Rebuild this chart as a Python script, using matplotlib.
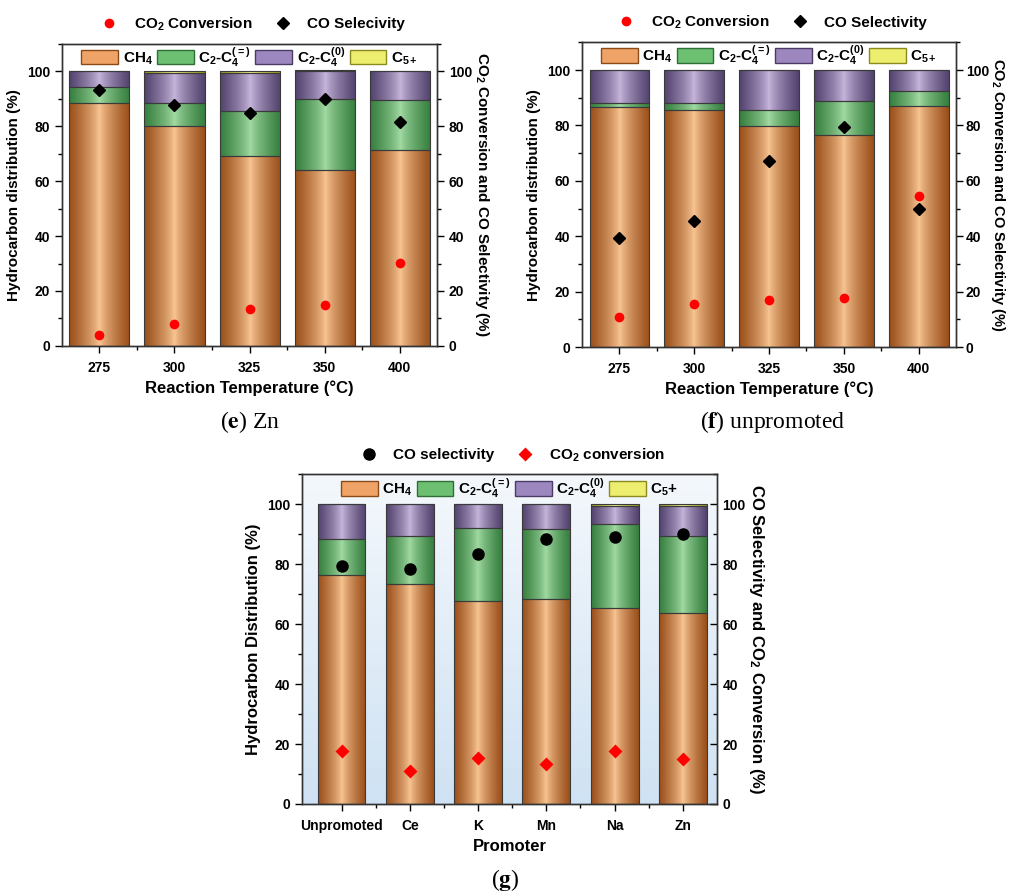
import numpy as np
import matplotlib
matplotlib.use("Agg")
import matplotlib.pyplot as plt
from matplotlib.colors import LinearSegmentedColormap
from matplotlib.patches import Patch
from matplotlib.lines import Line2D
from matplotlib.ticker import MultipleLocator

plt.rcParams['font.family'] = ['Liberation Sans', 'DejaVu Sans']
plt.rcParams['font.weight'] = 'bold'
plt.rcParams['axes.labelweight'] = 'bold'
plt.rcParams['mathtext.fontset'] = 'custom'
plt.rcParams['mathtext.rm'] = 'Liberation Sans:bold'
plt.rcParams['mathtext.it'] = 'Liberation Sans:bold'
plt.rcParams['mathtext.bf'] = 'Liberation Sans:bold'

# ---- data: (e) Zn promoted, temperature series
temps = ['275', '300', '325', '350', '400']
zn_ch4 = [88.5, 80.0, 69.0, 64.2, 71.3]
zn_olef = [5.8, 8.5, 16.7, 25.7, 18.2]
zn_par = [5.7, 11.0, 13.6, 10.1, 10.5]
zn_c5 = [0.0, 0.5, 0.7, 0.4, 0.1]
zn_co2_conv = [4.0, 8.0, 13.3, 15.0, 30.2]
zn_co_sel = [93.3, 87.8, 85.0, 90.0, 81.5]

# ---- data: (f) unpromoted, temperature series
un_ch4 = [86.5, 85.5, 79.7, 76.7, 87.2]
un_olef = [1.7, 2.7, 6.0, 12.0, 5.3]
un_par = [11.8, 11.8, 14.3, 11.3, 7.5]
un_c5 = [0.0, 0.0, 0.0, 0.0, 0.0]
un_co2_conv = [10.7, 15.5, 16.8, 17.8, 54.5]
un_co_sel = [39.3, 45.5, 67.3, 79.5, 49.8]

# ---- data: (g) promoter comparison
promoters = ['Unpromoted', 'Ce', 'K', 'Mn', 'Na', 'Zn']
pr_ch4 = [76.5, 73.5, 67.8, 68.3, 65.5, 63.8]
pr_olef = [12.0, 16.0, 24.2, 23.4, 27.8, 25.7]
pr_par = [11.5, 10.5, 8.0, 8.3, 6.2, 10.0]
pr_c5 = [0.0, 0.0, 0.0, 0.0, 0.5, 0.5]
pr_co_sel = [79.5, 78.5, 83.5, 88.5, 89.0, 90.2]
pr_co2_conv = [17.8, 11.0, 15.2, 13.5, 17.7, 15.0]

# gradient colours (edge, centre) for each hydrocarbon group
grad = {
    'ch4': ('#9a4f1a', '#fbc896'),
    'olef': ('#367f3e', '#a5dda6'),
    'par': ('#52436f', '#cab8de'),
    'c5': ('#9a9a1c', '#ffff9c'),
}


def gradient_bar(ax, x, h, bottom, width, key):
    dark, light = grad[key]
    cmap = LinearSegmentedColormap.from_list(key, [dark, light, dark])
    bars = ax.bar(x, h, width, bottom=bottom, facecolor='none',
                  edgecolor='#3a3a3a', linewidth=0.8, zorder=3)
    t = np.linspace(0, 1, 64)
    prof = 0.5 + 0.5 * np.sign(t - 0.5) * np.abs(2 * t - 1) ** 0.75
    img = prof.reshape(1, -1)
    for b in bars:
        if b.get_height() <= 0:
            continue
        x0, y0 = b.get_x(), b.get_y()
        im = ax.imshow(img, cmap=cmap, vmin=0, vmax=1, aspect='auto',
                       extent=(x0, x0 + b.get_width(), y0, y0 + b.get_height()),
                       zorder=2, interpolation='bicubic')
        im.set_clip_path(b)
    return bars


def stack(ax, n, ch4, olef, par, c5, width):
    x = np.arange(n)
    b = np.zeros(n)
    for vals, key in [(ch4, 'ch4'), (olef, 'olef'), (par, 'par'), (c5, 'c5')]:
        v = np.array(vals)
        gradient_bar(ax, x, v, b, width, key)
        b = b + v
    return x


def style(ax, ax2, n, labels, xlim):
    ax.set_xlim(*xlim)
    ax.set_ylim(0, 110)
    ax2.set_ylim(0, 110)
    ax.set_xticks(np.arange(n))
    ax.set_xticklabels(labels)
    ax.set_xticks(np.arange(n - 1) + 0.5, minor=True)
    for a in (ax, ax2):
        a.yaxis.set_major_locator(MultipleLocator(20))
        a.yaxis.set_minor_locator(MultipleLocator(10))
        a.set_yticks([0, 20, 40, 60, 80, 100])
        a.tick_params(which='major', length=5, width=1, labelsize=10)
        a.tick_params(which='minor', length=3, width=1)
        for s in a.spines.values():
            s.set_linewidth(1.0)
            s.set_color('#333333')
    ax.tick_params(axis='x', which='major', length=5, pad=6)


def bar_legend(ax, c5_label):
    handles = [Patch(facecolor='#f0a366', edgecolor='#8a4a18'),
               Patch(facecolor='#6dbf72', edgecolor='#2f6f36'),
               Patch(facecolor='#9c88bf', edgecolor='#4a3c66'),
               Patch(facecolor='#eded70', edgecolor='#8a8a20')]
    labels = ['CH$_4$', 'C$_2$-C$_4^{(=)}$', 'C$_2$-C$_4^{(0)}$', c5_label]
    ax.legend(handles, labels, loc='center', bbox_to_anchor=(0.5, 0.957),
              ncol=4, frameon=False, fontsize=11, handlelength=2.4,
              handleheight=1.1, handletextpad=0.3, columnspacing=0.3,
              borderaxespad=0)


fig = plt.figure(figsize=(10.11, 8.96), dpi=100)

# ---------- panel e ----------
axe = fig.add_axes([0.0613, 0.614, 0.371, 0.337])
x = stack(axe, 5, zn_ch4, zn_olef, zn_par, zn_c5, 0.8)
axe2 = axe.twinx()
axe2.plot(x, zn_co2_conv, 'o', color='red', ms=7, mec='none', zorder=5)
axe2.plot(x, zn_co_sel, 'D', color='black', ms=6, zorder=5)
style(axe, axe2, 5, temps, (-0.5, 4.5))
bar_legend(axe, 'C$_{5+}$')
axe.set_ylabel('Hydrocarbon distribution (%)', fontsize=11)
axe.set_xlabel('Reaction Temperature (°C)', fontsize=12)
axe2.set_ylabel('CO$_2$ Conversion and CO Selectivity (%)', fontsize=11,
                rotation=270, labelpad=1, va='bottom')
sl = [Line2D([], [], ls='none', marker='o', color='red', ms=7, mec='none'),
      Line2D([], [], ls='none', marker='D', color='black', ms=6)]
axe2.legend(sl, ['CO$_2$ Conversion', 'CO Selecivity'], loc='center',
            bbox_to_anchor=(0.5, 1.066), ncol=2, frameon=False, fontsize=11,
            columnspacing=1.0, handletextpad=0.6, borderaxespad=0)

# ---------- panel f ----------
axf = fig.add_axes([0.5757, 0.6127, 0.370, 0.340])
x = stack(axf, 5, un_ch4, un_olef, un_par, un_c5, 0.8)
axf2 = axf.twinx()
axf2.plot(x, un_co2_conv, 'o', color='red', ms=7, mec='none', zorder=5)
axf2.plot(x, un_co_sel, 'D', color='black', ms=6, zorder=5)
style(axf, axf2, 5, temps, (-0.5, 4.5))
axf2.tick_params(axis='y', which='major', pad=2)
bar_legend(axf, 'C$_{5+}$')
axf.set_ylabel('Hydrocarbon distribution (%)', fontsize=11)
axf.set_xlabel('Reaction Temperature (°C)', fontsize=12)
axf2.set_ylabel('CO$_2$ Conversion and CO Selectivity (%)', fontsize=10.5,
                rotation=270, labelpad=0, va='bottom')
axf2.legend(sl, ['CO$_2$ Conversion', 'CO Selectivity'], loc='center',
            bbox_to_anchor=(0.5, 1.066), ncol=2, frameon=False, fontsize=11,
            columnspacing=1.0, handletextpad=0.6, borderaxespad=0)

# ---------- panel g ----------
axg = fig.add_axes([0.2987, 0.1027, 0.4105, 0.368])
bg = LinearSegmentedColormap.from_list('bg', ['#cfe2f3', '#f4f8fc'])
axg.imshow(np.linspace(0, 1, 100).reshape(-1, 1), cmap=bg, aspect='auto',
           extent=(-0.58, 5.5, 0, 110), origin='lower', zorder=0)
x = stack(axg, 6, pr_ch4, pr_olef, pr_par, pr_c5, 0.7)
axg2 = axg.twinx()
axg2.plot(x, pr_co_sel, 'o', color='black', ms=8, zorder=5)
axg2.plot(x, pr_co2_conv, 'D', color='red', ms=7, mec='none', zorder=5)
style(axg, axg2, 6, promoters, (-0.58, 5.5))
axg2.tick_params(axis='y', which='both', direction='in')
axg2.tick_params(axis='y', which='major', pad=4)
bar_legend(axg, 'C$_5$+')
axg.set_ylabel('Hydrocarbon Distribution (%)', fontsize=12)
axg.set_xlabel('Promoter', fontsize=12)
axg2.set_ylabel('CO Selectivity and CO$_2$ Conversion (%)', fontsize=12,
                rotation=270, labelpad=1, va='bottom')
sg = [Line2D([], [], ls='none', marker='o', color='black', ms=8),
      Line2D([], [], ls='none', marker='D', color='red', ms=7, mec='none')]
axg2.legend(sg, ['CO selectivity', 'CO$_2$ conversion'], loc='center',
            bbox_to_anchor=(0.5, 1.058), ncol=2, frameon=False, fontsize=11,
            columnspacing=1.0, handletextpad=0.6, borderaxespad=0)

# ---------- captions ----------
cap = dict(fontfamily='Liberation Serif', fontweight='normal', fontsize=17,
           ha='center', va='center', math_fontfamily='stix')
fig.text(0.247, 0.529, r'($\mathbf{e}$) Zn', **cap)
fig.text(0.764, 0.529, r'($\mathbf{f}$) unpromoted', **cap)
fig.text(0.500, 0.018, r'($\mathbf{g}$)', **cap)

fig.savefig('out.png', dpi=100)
